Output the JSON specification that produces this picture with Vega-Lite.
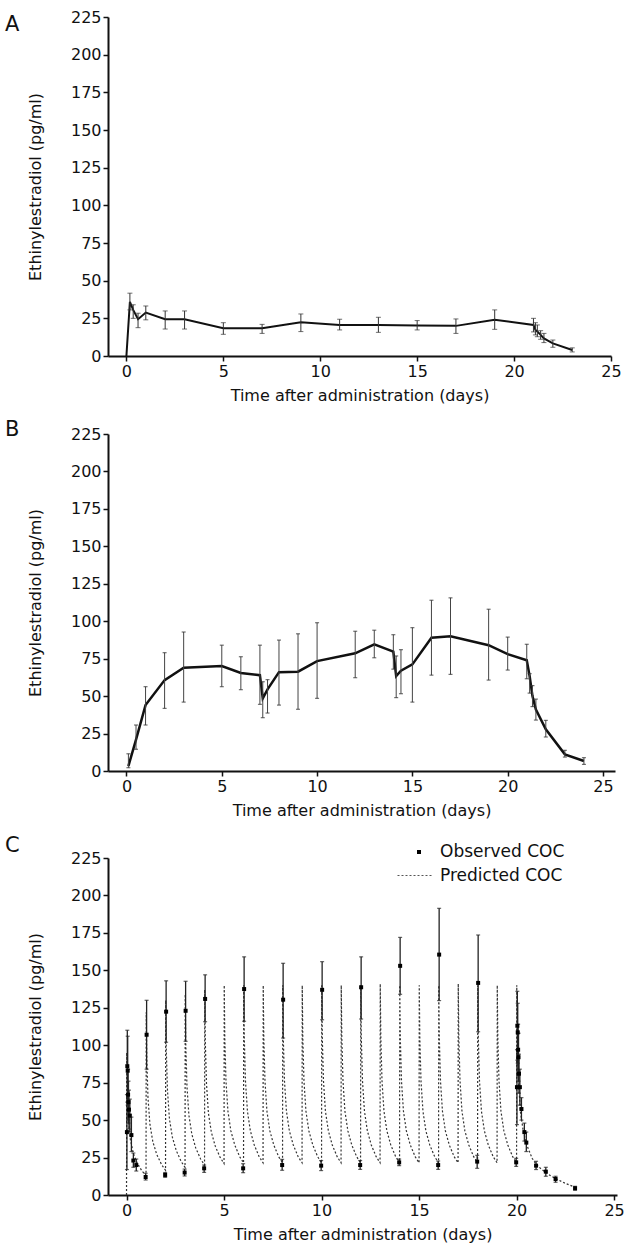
{
  "$schema": "https://vega.github.io/schema/vega-lite/v6.json",
  "padding": {"left": 5, "top": 9, "right": 5, "bottom": 5},
  "config": {
    "font": "DejaVu Sans",
    "view": {"stroke": null},
    "axis": {"domainColor": "#111", "domainWidth": 2, "tickColor": "#111", "tickWidth": 1.5, "tickSize": 5, "labelFont": "DejaVu Sans", "labelFontSize": 16, "labelColor": "#111", "titleFont": "DejaVu Sans", "titleFontSize": 16, "titleFontWeight": "normal", "titleColor": "#111", "grid": false, "labelPadding": 2, "labelFlush": false, "labelOverlap": false},
    "legend": {"labelFont": "DejaVu Sans", "labelFontSize": 17, "labelColor": "#111", "padding": 0, "title": null},
    "title": {"font": "DejaVu Sans", "fontSize": 21, "fontWeight": "normal", "anchor": "start", "color": "#111", "baseline": "alphabetic", "offset": 0, "frame": "group"}
  },
  "datasets": {
    "A": [
      {"day": 0, "mean": 0},
      {"day": 0.18, "mean": 36, "lo": 30.6, "hi": 41.7},
      {"day": 0.35, "mean": 30.6, "lo": 25, "hi": 34},
      {"day": 0.6, "mean": 24.4, "lo": 18.8, "hi": 28.4},
      {"day": 1, "mean": 28.8, "lo": 24, "hi": 33.2},
      {"day": 2, "mean": 24.4, "lo": 17.9, "hi": 29.9},
      {"day": 3, "mean": 24.4, "lo": 17.9, "hi": 29.9},
      {"day": 5, "mean": 18.4, "lo": 14.4, "hi": 22.1},
      {"day": 7, "mean": 18.4, "lo": 15, "hi": 21},
      {"day": 9, "mean": 22.4, "lo": 16.2, "hi": 27.9},
      {"day": 11, "mean": 20.6, "lo": 17.3, "hi": 24.4},
      {"day": 13, "mean": 20.6, "lo": 15.7, "hi": 25.7},
      {"day": 15, "mean": 20.3, "lo": 17.3, "hi": 23.5},
      {"day": 17, "mean": 20, "lo": 15, "hi": 24.6},
      {"day": 19, "mean": 24, "lo": 17.7, "hi": 30.6},
      {"day": 21, "mean": 20.6, "lo": 16, "hi": 25},
      {"day": 21.1, "mean": 17.3, "lo": 14, "hi": 22.1},
      {"day": 21.2, "mean": 16.2, "lo": 12.8, "hi": 20.6},
      {"day": 21.37, "mean": 14, "lo": 11.1, "hi": 16.8},
      {"day": 21.54, "mean": 11.7, "lo": 8.9, "hi": 15},
      {"day": 22, "mean": 8.4, "lo": 5.8, "hi": 10.6},
      {"day": 23, "mean": 4, "lo": 2.7, "hi": 5.4}
    ],
    "B": [
      {"day": 0.1, "mean": 3.3, "lo": 2.2, "hi": 11.5},
      {"day": 0.5, "mean": 21, "lo": 14.5, "hi": 30.7},
      {"day": 1, "mean": 44, "lo": 30.7, "hi": 56.3},
      {"day": 2, "mean": 60.7, "lo": 41.8, "hi": 79},
      {"day": 3, "mean": 69, "lo": 46, "hi": 92.8},
      {"day": 5, "mean": 70.1, "lo": 56.3, "hi": 84},
      {"day": 6, "mean": 65.4, "lo": 54.3, "hi": 76.3},
      {"day": 7, "mean": 64, "lo": 44.5, "hi": 84},
      {"day": 7.15, "mean": 48.5, "lo": 35.6, "hi": 59.6},
      {"day": 7.4, "mean": 54.5, "lo": 38.7, "hi": 61},
      {"day": 8, "mean": 66, "lo": 44, "hi": 87.4},
      {"day": 9, "mean": 66.3, "lo": 41.2, "hi": 91.6},
      {"day": 10, "mean": 73.4, "lo": 48.5, "hi": 99},
      {"day": 12, "mean": 78.6, "lo": 62.3, "hi": 93.3},
      {"day": 13, "mean": 84.6, "lo": 75.6, "hi": 94},
      {"day": 14, "mean": 79.7, "lo": 68, "hi": 91},
      {"day": 14.15, "mean": 63.4, "lo": 49, "hi": 76.8},
      {"day": 14.4, "mean": 67, "lo": 51.6, "hi": 81},
      {"day": 15, "mean": 71.2, "lo": 46, "hi": 95.7},
      {"day": 16, "mean": 89, "lo": 64, "hi": 114},
      {"day": 17, "mean": 90, "lo": 64.5, "hi": 115.6},
      {"day": 19, "mean": 84, "lo": 60.7, "hi": 108},
      {"day": 20, "mean": 78, "lo": 67.4, "hi": 89.4},
      {"day": 21, "mean": 73.9, "lo": 61.6, "hi": 84.6},
      {"day": 21.15, "mean": 63.4, "lo": 52, "hi": 65},
      {"day": 21.3, "mean": 50, "lo": 43, "hi": 57},
      {"day": 21.48, "mean": 41, "lo": 34, "hi": 48},
      {"day": 22, "mean": 27.8, "lo": 22.7, "hi": 33.8},
      {"day": 23, "mean": 11.1, "lo": 9.3, "hi": 13.8},
      {"day": 24, "mean": 6.7, "lo": 4.4, "hi": 8.9}
    ],
    "Cobs": [
      {"day": 0.02, "mean": 42, "lo": 17, "hi": 67},
      {"day": 0.04, "mean": 86, "lo": 62, "hi": 110},
      {"day": 0.06, "mean": 83, "lo": 60, "hi": 106},
      {"day": 0.08, "mean": 67, "lo": 50, "hi": 84},
      {"day": 0.1, "mean": 62, "lo": 48, "hi": 76},
      {"day": 0.125, "mean": 57, "lo": 44, "hi": 70},
      {"day": 0.17, "mean": 53, "lo": 42, "hi": 64},
      {"day": 0.25, "mean": 40, "lo": 29, "hi": 52},
      {"day": 0.35, "mean": 23, "lo": 18.5, "hi": 28},
      {"day": 0.5, "mean": 20, "lo": 16, "hi": 24},
      {"day": 0.98, "mean": 12, "lo": 10, "hi": 14.5},
      {"day": 1.03, "mean": 107, "lo": 84, "hi": 130},
      {"day": 1.98, "mean": 13.4, "lo": 11.8, "hi": 15},
      {"day": 2.03, "mean": 122.4, "lo": 102, "hi": 143},
      {"day": 2.98, "mean": 15, "lo": 12.7, "hi": 17.3},
      {"day": 3.03, "mean": 123, "lo": 102.6, "hi": 142.7},
      {"day": 3.98, "mean": 17.8, "lo": 15.1, "hi": 20},
      {"day": 4.03, "mean": 130.9, "lo": 115.7, "hi": 147},
      {"day": 5.98, "mean": 17.8, "lo": 14.9, "hi": 20.9},
      {"day": 6.03, "mean": 137.5, "lo": 116, "hi": 159},
      {"day": 7.98, "mean": 20, "lo": 16.5, "hi": 23.8},
      {"day": 8.03, "mean": 130.4, "lo": 104.8, "hi": 154.7},
      {"day": 9.98, "mean": 19.6, "lo": 16.3, "hi": 23},
      {"day": 10.03, "mean": 137, "lo": 117, "hi": 155.8},
      {"day": 11.98, "mean": 20, "lo": 17.1, "hi": 23},
      {"day": 12.03, "mean": 138.7, "lo": 117.5, "hi": 159},
      {"day": 13.98, "mean": 21.8, "lo": 19.6, "hi": 24},
      {"day": 14.03, "mean": 153, "lo": 134, "hi": 172},
      {"day": 15.98, "mean": 20, "lo": 17.1, "hi": 22.7},
      {"day": 16.03, "mean": 160.5, "lo": 129.8, "hi": 191.4},
      {"day": 17.98, "mean": 22.3, "lo": 17.8, "hi": 26.5},
      {"day": 18.03, "mean": 141.6, "lo": 109, "hi": 173.6},
      {"day": 19.98, "mean": 21.8, "lo": 19.1, "hi": 24.5},
      {"day": 20.02, "mean": 72, "lo": 47, "hi": 97},
      {"day": 20.04, "mean": 113, "lo": 90, "hi": 136},
      {"day": 20.06, "mean": 108.6, "lo": 88, "hi": 128},
      {"day": 20.08, "mean": 97, "lo": 80, "hi": 114},
      {"day": 20.1, "mean": 92, "lo": 76, "hi": 108},
      {"day": 20.125, "mean": 81, "lo": 68, "hi": 94},
      {"day": 20.17, "mean": 72, "lo": 60, "hi": 84},
      {"day": 20.25, "mean": 57.4, "lo": 50, "hi": 65},
      {"day": 20.4, "mean": 42, "lo": 36, "hi": 48},
      {"day": 20.5, "mean": 35, "lo": 29, "hi": 42},
      {"day": 21, "mean": 19.6, "lo": 17, "hi": 22.5},
      {"day": 21.5, "mean": 15.6, "lo": 12.5, "hi": 18.5},
      {"day": 22, "mean": 10.7, "lo": 8.5, "hi": 12.5},
      {"day": 23, "mean": 4.5, "lo": 3.2, "hi": 5.8}
    ],
    "Cpred": [
      {"day": 0, "v": 0}, {"day": 0.01, "v": 95}, {"day": 0.04, "v": 70.4}, {"day": 0.1, "v": 50.7}, {"day": 0.2, "v": 36.8}, {"day": 0.35, "v": 27.8}, {"day": 0.55, "v": 21.2}, {"day": 0.8, "v": 15.9},
      {"day": 1, "v": 13}, {"day": 1.01, "v": 122}, {"day": 1.04, "v": 90.4}, {"day": 1.1, "v": 65}, {"day": 1.2, "v": 47.1}, {"day": 1.35, "v": 35.5}, {"day": 1.55, "v": 27.1}, {"day": 1.8, "v": 20.2},
      {"day": 2, "v": 16.5}, {"day": 2.01, "v": 130}, {"day": 2.04, "v": 96.6}, {"day": 2.1, "v": 69.8}, {"day": 2.2, "v": 50.8}, {"day": 2.35, "v": 38.6}, {"day": 2.55, "v": 29.7}, {"day": 2.8, "v": 22.4},
      {"day": 3, "v": 18.5}, {"day": 3.01, "v": 134}, {"day": 3.04, "v": 99.8}, {"day": 3.1, "v": 72.4}, {"day": 3.2, "v": 53.1}, {"day": 3.35, "v": 40.5}, {"day": 3.55, "v": 31.4}, {"day": 3.8, "v": 24},
      {"day": 4, "v": 20}, {"day": 4.01, "v": 137}, {"day": 4.04, "v": 102.2}, {"day": 4.1, "v": 74.4}, {"day": 4.2, "v": 54.6}, {"day": 4.35, "v": 41.9}, {"day": 4.55, "v": 32.6}, {"day": 4.8, "v": 25.1},
      {"day": 5, "v": 21}, {"day": 5.01, "v": 140}, {"day": 5.04, "v": 104.5}, {"day": 5.1, "v": 76}, {"day": 5.2, "v": 55.9}, {"day": 5.35, "v": 42.8}, {"day": 5.55, "v": 33.4}, {"day": 5.8, "v": 25.6},
      {"day": 6, "v": 21.5}, {"day": 6.01, "v": 140}, {"day": 6.04, "v": 104.5}, {"day": 6.1, "v": 76}, {"day": 6.2, "v": 55.9}, {"day": 6.35, "v": 42.8}, {"day": 6.55, "v": 33.4}, {"day": 6.8, "v": 25.6},
      {"day": 7, "v": 21.5}, {"day": 7.01, "v": 140}, {"day": 7.04, "v": 104.5}, {"day": 7.1, "v": 76}, {"day": 7.2, "v": 55.9}, {"day": 7.35, "v": 42.8}, {"day": 7.55, "v": 33.4}, {"day": 7.8, "v": 25.6},
      {"day": 8, "v": 21.5}, {"day": 8.01, "v": 140}, {"day": 8.04, "v": 104.5}, {"day": 8.1, "v": 76}, {"day": 8.2, "v": 55.9}, {"day": 8.35, "v": 42.8}, {"day": 8.55, "v": 33.4}, {"day": 8.8, "v": 25.6},
      {"day": 9, "v": 21.5}, {"day": 9.01, "v": 140}, {"day": 9.04, "v": 104.5}, {"day": 9.1, "v": 76}, {"day": 9.2, "v": 55.9}, {"day": 9.35, "v": 42.8}, {"day": 9.55, "v": 33.4}, {"day": 9.8, "v": 25.6},
      {"day": 10, "v": 21.5}, {"day": 10.01, "v": 140}, {"day": 10.04, "v": 104.5}, {"day": 10.1, "v": 76}, {"day": 10.2, "v": 55.9}, {"day": 10.35, "v": 42.8}, {"day": 10.55, "v": 33.4}, {"day": 10.8, "v": 25.6},
      {"day": 11, "v": 21.5}, {"day": 11.01, "v": 140}, {"day": 11.04, "v": 104.5}, {"day": 11.1, "v": 76}, {"day": 11.2, "v": 55.9}, {"day": 11.35, "v": 42.8}, {"day": 11.55, "v": 33.4}, {"day": 11.8, "v": 25.6},
      {"day": 12, "v": 21.5}, {"day": 12.01, "v": 140}, {"day": 12.04, "v": 104.5}, {"day": 12.1, "v": 76}, {"day": 12.2, "v": 55.9}, {"day": 12.35, "v": 42.8}, {"day": 12.55, "v": 33.4}, {"day": 12.8, "v": 25.6},
      {"day": 13, "v": 21.5}, {"day": 13.01, "v": 141}, {"day": 13.04, "v": 105}, {"day": 13.1, "v": 76.3}, {"day": 13.2, "v": 56}, {"day": 13.35, "v": 42.8}, {"day": 13.55, "v": 33.4}, {"day": 13.8, "v": 25.6},
      {"day": 14, "v": 21.5}, {"day": 14.01, "v": 140}, {"day": 14.04, "v": 104.5}, {"day": 14.1, "v": 76}, {"day": 14.2, "v": 55.9}, {"day": 14.35, "v": 42.8}, {"day": 14.55, "v": 33.4}, {"day": 14.8, "v": 25.6},
      {"day": 15, "v": 21.5}, {"day": 15.01, "v": 140}, {"day": 15.04, "v": 104.5}, {"day": 15.1, "v": 76}, {"day": 15.2, "v": 55.9}, {"day": 15.35, "v": 42.8}, {"day": 15.55, "v": 33.4}, {"day": 15.8, "v": 25.6},
      {"day": 16, "v": 21.5}, {"day": 16.01, "v": 140}, {"day": 16.04, "v": 104.5}, {"day": 16.1, "v": 76}, {"day": 16.2, "v": 55.9}, {"day": 16.35, "v": 42.8}, {"day": 16.55, "v": 33.4}, {"day": 16.8, "v": 25.6},
      {"day": 17, "v": 21.5}, {"day": 17.01, "v": 141}, {"day": 17.04, "v": 105}, {"day": 17.1, "v": 76.3}, {"day": 17.2, "v": 56}, {"day": 17.35, "v": 42.8}, {"day": 17.55, "v": 33.4}, {"day": 17.8, "v": 25.6},
      {"day": 18, "v": 21.5}, {"day": 18.01, "v": 140}, {"day": 18.04, "v": 104.5}, {"day": 18.1, "v": 76}, {"day": 18.2, "v": 55.9}, {"day": 18.35, "v": 42.8}, {"day": 18.55, "v": 33.4}, {"day": 18.8, "v": 25.6},
      {"day": 19, "v": 21.5}, {"day": 19.01, "v": 140}, {"day": 19.04, "v": 104.5}, {"day": 19.1, "v": 76}, {"day": 19.2, "v": 55.9}, {"day": 19.35, "v": 42.8}, {"day": 19.55, "v": 33.4}, {"day": 19.8, "v": 25.6},
      {"day": 20, "v": 21.5}, {"day": 20.01, "v": 140}, {"day": 20.04, "v": 104}, {"day": 20.1, "v": 75.5}, {"day": 20.2, "v": 55.3}, {"day": 20.35, "v": 42}, {"day": 20.55, "v": 32.5}, {"day": 20.8, "v": 24.5},
      {"day": 21, "v": 20.5}, {"day": 21.25, "v": 17.5}, {"day": 21.5, "v": 15}, {"day": 21.75, "v": 12.8}, {"day": 22, "v": 11}, {"day": 22.5, "v": 7.8}, {"day": 23, "v": 5.2}
    ]
  },
  "spacing": 16,
  "resolve": {"scale": {"x": "independent", "y": "independent", "shape": "independent", "strokeDash": "independent"}},
  "vconcat": [
    {
      "title": {"text": "A", "dx": -103, "dy": 30},
      "width": 503,
      "height": 339,
      "data": {"name": "A"},
      "encoding": {
        "x": {"field": "day", "type": "quantitative", "title": "Time after administration (days)", "scale": {"domain": [-0.95, 25], "nice": false, "zero": false}, "axis": {"values": [0, 5, 10, 15, 20, 25], "titlePadding": 8, "labelOverlap": false}}
      },
      "layer": [
        {
          "mark": {"type": "line", "color": "#111", "strokeWidth": 2},
          "encoding": {"y": {"field": "mean", "type": "quantitative", "title": "Ethinylestradiol (pg/ml)", "scale": {"domain": [0, 225], "nice": false}, "axis": {"values": [0, 25, 50, 75, 100, 125, 150, 175, 200, 225], "titlePadding": 27, "labelOverlap": false}}}
        },
        {
          "mark": {"type": "rule", "color": "#333", "strokeWidth": 1},
          "encoding": {"y": {"field": "lo", "type": "quantitative", "title": "Ethinylestradiol (pg/ml)", "scale": {"domain": [0, 225], "nice": false}, "axis": {"values": [0, 25, 50, 75, 100, 125, 150, 175, 200, 225], "titlePadding": 27, "labelOverlap": false}}, "y2": {"field": "hi"}}
        },
        {
          "mark": {"type": "tick", "orient": "horizontal", "color": "#333", "size": 5, "thickness": 1},
          "encoding": {"y": {"field": "lo", "type": "quantitative", "title": "Ethinylestradiol (pg/ml)", "scale": {"domain": [0, 225], "nice": false}, "axis": {"values": [0, 25, 50, 75, 100, 125, 150, 175, 200, 225], "titlePadding": 27, "labelOverlap": false}}}
        },
        {
          "mark": {"type": "tick", "orient": "horizontal", "color": "#333", "size": 5, "thickness": 1},
          "encoding": {"y": {"field": "hi", "type": "quantitative", "title": "Ethinylestradiol (pg/ml)", "scale": {"domain": [0, 225], "nice": false}, "axis": {"values": [0, 25, 50, 75, 100, 125, 150, 175, 200, 225], "titlePadding": 27, "labelOverlap": false}}}
        }
      ]
    },
    {
      "title": {"text": "B", "dx": -103, "dy": 18},
      "width": 507,
      "height": 337,
      "data": {"name": "B"},
      "encoding": {
        "x": {"field": "day", "type": "quantitative", "title": "Time after administration (days)", "scale": {"domain": [-0.97, 25.63], "nice": false, "zero": false}, "axis": {"values": [0, 5, 10, 15, 20, 25], "titlePadding": 8, "labelOverlap": false}}
      },
      "layer": [
        {
          "mark": {"type": "line", "color": "#111", "strokeWidth": 2.5},
          "encoding": {"y": {"field": "mean", "type": "quantitative", "title": "Ethinylestradiol (pg/ml)", "scale": {"domain": [0, 225], "nice": false}, "axis": {"values": [0, 25, 50, 75, 100, 125, 150, 175, 200, 225], "titlePadding": 27, "labelOverlap": false}}}
        },
        {
          "mark": {"type": "rule", "color": "#444", "strokeWidth": 1},
          "encoding": {"y": {"field": "lo", "type": "quantitative", "title": "Ethinylestradiol (pg/ml)", "scale": {"domain": [0, 225], "nice": false}, "axis": {"values": [0, 25, 50, 75, 100, 125, 150, 175, 200, 225], "titlePadding": 27, "labelOverlap": false}}, "y2": {"field": "hi"}}
        },
        {
          "mark": {"type": "tick", "orient": "horizontal", "color": "#333", "size": 4, "thickness": 1.2},
          "encoding": {"y": {"field": "lo", "type": "quantitative", "title": "Ethinylestradiol (pg/ml)", "scale": {"domain": [0, 225], "nice": false}, "axis": {"values": [0, 25, 50, 75, 100, 125, 150, 175, 200, 225], "titlePadding": 27, "labelOverlap": false}}}
        },
        {
          "mark": {"type": "tick", "orient": "horizontal", "color": "#333", "size": 4, "thickness": 1.2},
          "encoding": {"y": {"field": "hi", "type": "quantitative", "title": "Ethinylestradiol (pg/ml)", "scale": {"domain": [0, 225], "nice": false}, "axis": {"values": [0, 25, 50, 75, 100, 125, 150, 175, 200, 225], "titlePadding": 27, "labelOverlap": false}}}
        }
      ]
    },
    {
      "title": {"text": "C", "dx": -103, "dy": 16},
      "width": 509,
      "height": 337,
      "encoding": {
        "x": {"field": "day", "type": "quantitative", "title": "Time after administration (days)", "scale": {"domain": [-0.95, 25.15], "nice": false, "zero": false}, "axis": {"values": [0, 5, 10, 15, 20, 25], "titlePadding": 8, "labelOverlap": false}}
      },
      "layer": [
        {
          "data": {"name": "Cpred"},
          "mark": {"type": "line", "color": "#333", "strokeWidth": 1.2},
          "encoding": {
            "y": {"field": "v", "type": "quantitative", "title": "Ethinylestradiol (pg/ml)", "scale": {"domain": [0, 225], "nice": false}, "axis": {"values": [0, 25, 50, 75, 100, 125, 150, 175, 200, 225], "titlePadding": 27, "labelOverlap": false}},
            "strokeDash": {
              "datum": "Predicted COC",
              "scale": {"domain": ["Predicted COC"], "range": [[2, 2]]},
              "legend": {"orient": "none", "legendX": 289, "legendY": 0, "labelOffset": 8, "symbolType": "stroke", "symbolSize": 1156, "symbolStrokeColor": "#555", "symbolStrokeWidth": 1}
            }
          }
        },
        {
          "data": {"name": "Cobs"},
          "mark": {"type": "rule", "color": "#222", "strokeWidth": 1.3},
          "encoding": {"y": {"field": "lo", "type": "quantitative", "title": "Ethinylestradiol (pg/ml)", "scale": {"domain": [0, 225], "nice": false}, "axis": {"values": [0, 25, 50, 75, 100, 125, 150, 175, 200, 225], "titlePadding": 27, "labelOverlap": false}}, "y2": {"field": "hi"}}
        },
        {
          "data": {"name": "Cobs"},
          "mark": {"type": "tick", "orient": "horizontal", "color": "#222", "size": 4, "thickness": 1.2},
          "encoding": {"y": {"field": "lo", "type": "quantitative", "title": "Ethinylestradiol (pg/ml)", "scale": {"domain": [0, 225], "nice": false}, "axis": {"values": [0, 25, 50, 75, 100, 125, 150, 175, 200, 225], "titlePadding": 27, "labelOverlap": false}}}
        },
        {
          "data": {"name": "Cobs"},
          "mark": {"type": "tick", "orient": "horizontal", "color": "#222", "size": 4, "thickness": 1.2},
          "encoding": {"y": {"field": "hi", "type": "quantitative", "title": "Ethinylestradiol (pg/ml)", "scale": {"domain": [0, 225], "nice": false}, "axis": {"values": [0, 25, 50, 75, 100, 125, 150, 175, 200, 225], "titlePadding": 27, "labelOverlap": false}}}
        },
        {
          "data": {"name": "Cobs"},
          "mark": {"type": "point", "filled": true, "color": "#000", "size": 16, "opacity": 1},
          "encoding": {
            "y": {"field": "mean", "type": "quantitative", "title": "Ethinylestradiol (pg/ml)", "scale": {"domain": [0, 225], "nice": false}, "axis": {"values": [0, 25, 50, 75, 100, 125, 150, 175, 200, 225], "titlePadding": 27, "labelOverlap": false}},
            "shape": {
              "datum": "Observed COC",
              "scale": {"domain": ["Observed COC"], "range": ["square"]},
              "legend": {"orient": "none", "legendX": 302.5, "legendY": -14.5, "labelOffset": 12.5, "symbolSize": 16, "symbolFillColor": "#000", "symbolStrokeColor": "#000", "symbolStrokeWidth": 0, "symbolOpacity": 1}
            }
          }
        }
      ]
    }
  ]
}
